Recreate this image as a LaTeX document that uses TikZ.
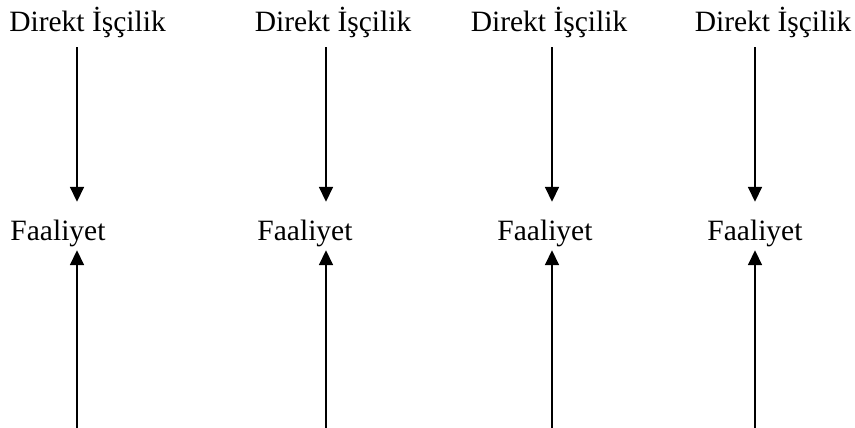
\documentclass[tikz,border=0pt]{standalone}
\usepackage{fontspec}
\setmainfont{Liberation Serif}
\usetikzlibrary{arrows.meta}

\tikzset{
    lbl/.style={inner sep=0pt, anchor=base, text height=20pt, text depth=7pt,
                font=\fontsize{29.5}{34}\selectfont},
    arr/.style={-{Triangle[length=15pt,width=14pt]}, line width=1.7pt},
}

\begin{document}
\begin{tikzpicture}[x=1pt, y=-1pt]
    \useasboundingbox (0,0) rectangle (855,428);
    % Top labels
    \node[lbl] (dir1) at (87.5,32) {Direkt İşçilik};
    \node[lbl] (dir2) at (333,32) {Direkt İşçilik};
    \node[lbl] (dir3) at (549,32) {Direkt İşçilik};
    \node[lbl] (dir4) at (773,32) {Direkt İşçilik};
    % Middle labels
    \node[lbl] (faa1) at (58,240) {Faaliyet};
    \node[lbl] (faa2) at (305,240) {Faaliyet};
    \node[lbl] (faa3) at (545,240) {Faaliyet};
    \node[lbl] (faa4) at (755,240) {Faaliyet};
    % Lower ends of the rising arrows
    \coordinate (bot1) at (77,428);
    \coordinate (bot2) at (326,428);
    \coordinate (bot3) at (552,428);
    \coordinate (bot4) at (755,428);
    % Downward Arrows
    \draw[arr, shorten <=8pt, shorten >=18pt] (dir1.south -| bot1) -- (faa1.north -| bot1);
    \draw[arr, shorten <=8pt, shorten >=18pt] (dir2.south -| bot2) -- (faa2.north -| bot2);
    \draw[arr, shorten <=8pt, shorten >=18pt] (dir3.south -| bot3) -- (faa3.north -| bot3);
    \draw[arr, shorten <=8pt, shorten >=18pt] (dir4.south -| bot4) -- (faa4.north -| bot4);
    % Upward Arrows
    \draw[arr, shorten >=3pt] (bot1) -- (faa1.south -| bot1);
    \draw[arr, shorten >=3pt] (bot2) -- (faa2.south -| bot2);
    \draw[arr, shorten >=3pt] (bot3) -- (faa3.south -| bot3);
    \draw[arr, shorten >=3pt] (bot4) -- (faa4.south -| bot4);
\end{tikzpicture}
\end{document}
